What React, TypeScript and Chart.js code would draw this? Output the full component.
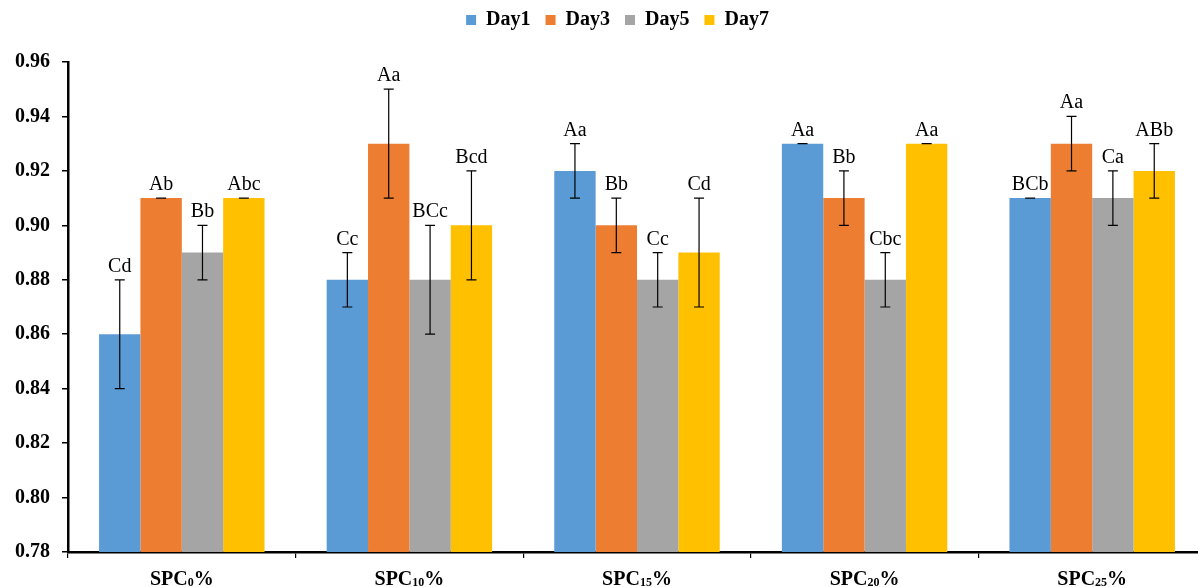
import React, { useEffect, useRef } from "react";
import { Chart, registerables } from "chart.js";

Chart.register(...registerables);

const categories = ["0", "10", "15", "20", "25"];
const seriesNames = ["Day1", "Day3", "Day5", "Day7"];
const seriesColors = ["#5B9BD5", "#ED7D31", "#A5A5A5", "#FFC000"];

const day1 = [0.86, 0.88, 0.92, 0.93, 0.91];
const day3 = [0.91, 0.93, 0.90, 0.91, 0.93];
const day5 = [0.89, 0.88, 0.88, 0.88, 0.91];
const day7 = [0.91, 0.90, 0.89, 0.93, 0.92];

const day1Err = [0.02, 0.01, 0.01, 0.0, 0.0];
const day3Err = [0.0, 0.02, 0.01, 0.01, 0.01];
const day5Err = [0.01, 0.02, 0.01, 0.01, 0.01];
const day7Err = [0.0, 0.02, 0.02, 0.0, 0.01];

const day1Letters = ["Cd", "Cc", "Aa", "Aa", "BCb"];
const day3Letters = ["Ab", "Aa", "Bb", "Bb", "Aa"];
const day5Letters = ["Bb", "BCc", "Cc", "Cbc", "Ca"];
const day7Letters = ["Abc", "Bcd", "Cd", "Aa", "ABb"];

const yMin = 0.78;
const yMax = 0.96;
const yStep = 0.02;

const seriesValues = [day1, day3, day5, day7];
const seriesErrors = [day1Err, day3Err, day5Err, day7Err];
const seriesLetters = [day1Letters, day3Letters, day5Letters, day7Letters];

const SERIF = '"Times New Roman", "Liberation Serif", serif';

const errorBarPlugin = {
  id: "errorBarsLetters",
  afterDatasetsDraw(chart: any) {
    const ctx = chart.ctx;
    const y = chart.scales.y;
    ctx.save();
    chart.data.datasets.forEach((ds: any, di: number) => {
      const meta = chart.getDatasetMeta(di);
      meta.data.forEach((bar: any, i: number) => {
        const v = ds.data[i];
        const e = seriesErrors[di][i];
        const x = bar.x;
        const yTop = y.getPixelForValue(v + e);
        const yBot = y.getPixelForValue(v - e);
        ctx.strokeStyle = "#000";
        ctx.lineWidth = 1.2;
        ctx.beginPath();
        ctx.moveTo(x, yTop);
        ctx.lineTo(x, yBot);
        ctx.moveTo(x - 5, yTop);
        ctx.lineTo(x + 5, yTop);
        ctx.moveTo(x - 5, yBot);
        ctx.lineTo(x + 5, yBot);
        ctx.stroke();
        ctx.fillStyle = "#000";
        ctx.font = `20px ${SERIF}`;
        ctx.textAlign = "center";
        ctx.textBaseline = "alphabetic";
        ctx.fillText(seriesLetters[di][i], x, yTop - 8);
      });
    });
    ctx.restore();
  },
};

const xLabelPlugin = {
  id: "xLabels",
  afterDraw(chart: any) {
    const ctx = chart.ctx;
    const xs = chart.scales.x;
    const baseY = 585;
    ctx.save();
    ctx.fillStyle = "#000";
    ctx.textBaseline = "alphabetic";
    ctx.textAlign = "left";
    categories.forEach((c, i) => {
      const cx = xs.getPixelForValue(i);
      const big = `bold 20px ${SERIF}`;
      const small = `bold 12px ${SERIF}`;
      ctx.font = big;
      const w1 = ctx.measureText("SPC").width;
      const w3 = ctx.measureText("%").width;
      ctx.font = small;
      const w2 = ctx.measureText(c).width;
      const total = w1 + w2 + w3;
      let x = cx - total / 2;
      ctx.font = big;
      ctx.fillText("SPC", x, baseY);
      x += w1;
      ctx.font = small;
      ctx.fillText(c, x, baseY + 1);
      x += w2;
      ctx.font = big;
      ctx.fillText("%", x, baseY);
    });
    ctx.restore();
  },
};

const legendHeightPlugin = {
  id: "legendHeight",
  beforeLayout(chart: any) {
    const lg = chart.legend;
    if (lg && !lg.__patched) {
      const orig = lg.fit.bind(lg);
      lg.fit = function () {
        orig();
        this.height = 67;
        if (this.lineWidths && this.lineWidths.length) {
          this.lineWidths[0] -= 29;
        }
      };
      lg.__patched = true;
    }
  },
};

export default function App() {
  const ref = useRef<HTMLCanvasElement | null>(null);
  useEffect(() => {
    document.body.style.margin = "0";
    document.documentElement.style.overflow = "hidden";
    document.body.style.overflow = "hidden";
    if (!ref.current) return;
    const chart = new Chart(ref.current, {
      type: "bar",
      data: {
        labels: categories.map((c) => `SPC${c}%`),
        datasets: seriesNames.map((name, i) => ({
          label: name,
          data: seriesValues[i],
          backgroundColor: seriesColors[i],
          borderWidth: 0,
          categoryPercentage: 0.727,
          barPercentage: 1,
        })),
      },
      options: {
        animation: false,
        responsive: false,
        maintainAspectRatio: false,
        layout: { padding: { left: 0, right: 0, top: -5, bottom: 0 } },
        plugins: {
          legend: {
            position: "top",
            align: "center",
            labels: {
              boxWidth: 10,
              boxHeight: 10,
              padding: 15,
              color: "#000",
              font: { family: SERIF, size: 20, weight: "bold" },
            },
          },
          tooltip: { enabled: false },
        },
        scales: {
          x: {
            grid: {
              display: true,
              drawOnChartArea: false,
              drawTicks: true,
              tickLength: 6,
              color: "#000",
              lineWidth: 1.2,
              offset: true,
            },
            border: { display: true, color: "#000", width: 2.5 },
            ticks: { display: false },
            afterFit: (s: any) => {
              s.height = 35;
            },
          },
          y: {
            min: yMin,
            max: yMax,
            ticks: {
              stepSize: yStep,
              padding: 12,
              color: "#000",
              font: { family: SERIF, size: 20, weight: "bold" },
              callback: (v: any) => Number(v).toFixed(2),
            },
            grid: {
              display: true,
              drawOnChartArea: false,
              drawTicks: true,
              tickLength: 6,
              color: "#000",
              lineWidth: 1.5,
            },
            border: { display: true, color: "#000", width: 2.5 },
            afterFit: (s: any) => {
              s.width = 68;
            },
          },
        },
      },
      plugins: [legendHeightPlugin, errorBarPlugin, xLabelPlugin],
    } as any);
    return () => chart.destroy();
  }, []);

  return (
    <div
      style={{
        width: 1198,
        height: 587,
        overflow: "hidden",
        background: "#fff",
      }}
    >
      <canvas ref={ref} width={1206} height={587} style={{ display: "block" }} />
    </div>
  );
}
